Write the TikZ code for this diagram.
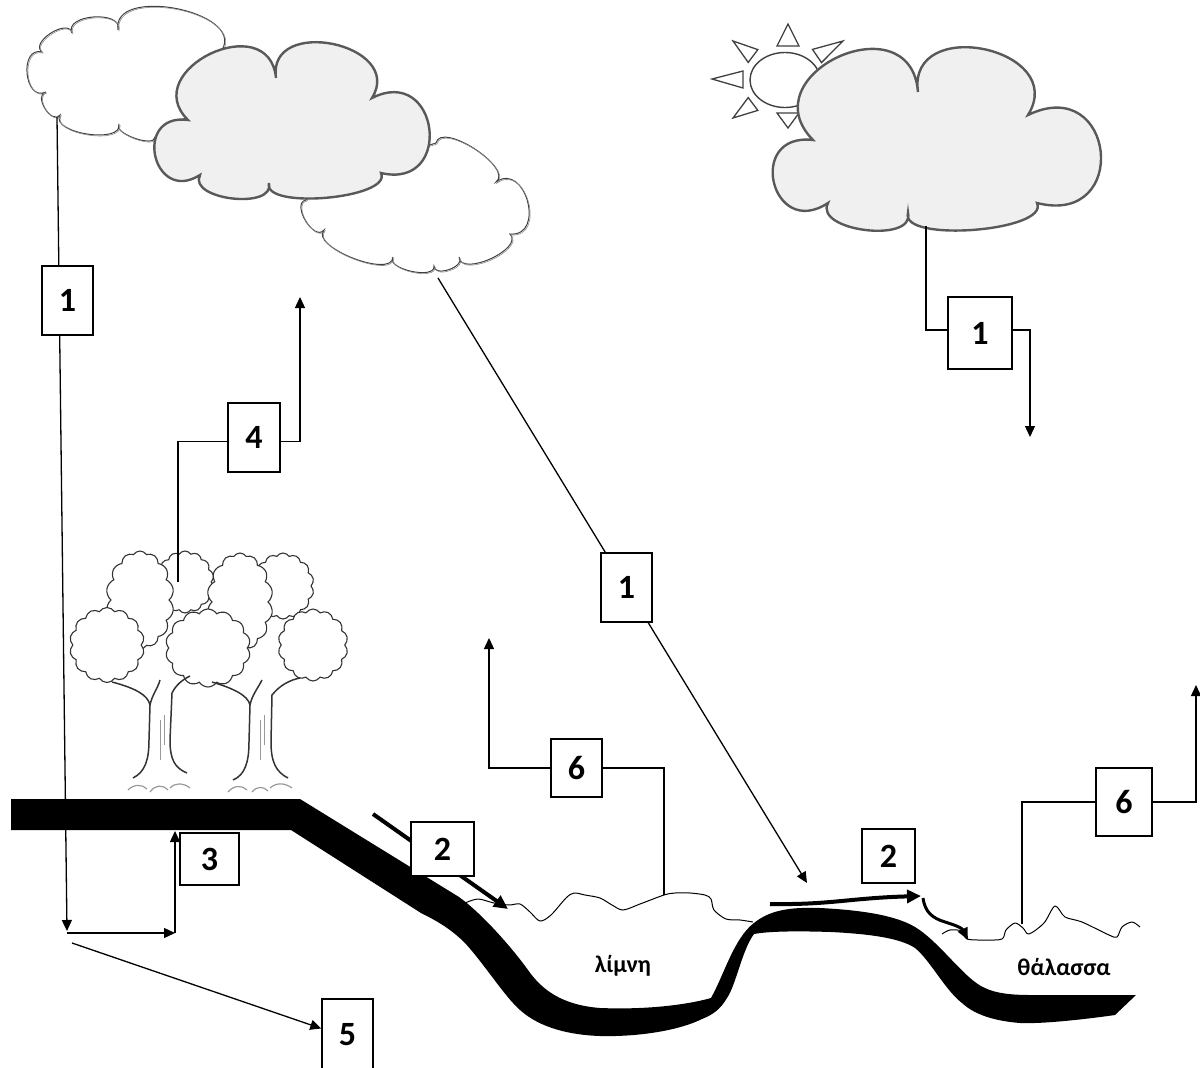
\documentclass[tikz,border=0pt]{standalone}
\usepackage{fontspec}
\setmainfont{Carlito}
\usetikzlibrary{arrows.meta,calc,shapes.symbols}
\pgfdeclarelayer{bg}
\pgfsetlayers{bg,main}
\newcommand\puff[3]{.. controls ($(#1)!#3!110:(#2)$) and ($(#2)!#3!-110:(#1)$) .. (#2)}
\begin{document}
\begin{tikzpicture}[x=1pt,y=-1pt,
  box/.style={draw=black, fill=white, line width=1.4pt, inner sep=0pt, font=\fontsize{34}{34}\selectfont\bfseries},
  conn/.style={line width=1.3pt, draw=black},
  tipa/.style={-{Triangle[length=11pt,width=10pt]}},
  flow/.style={line width=4pt, -{Triangle[length=14pt,width=13pt]}},
  sketch/.style={draw=black!75, line width=1pt, fill=white},
  sketchb/.style={draw=black!45, line width=0.6pt},
  graycloud/.style={draw=black!65, line width=2.4pt, fill=black!6},
  crown/.style={cloud, cloud puffs=14, cloud puff arc=115, cloud ignores aspect, draw=black!80, line width=1.1pt, fill=white, inner sep=0pt},
  trunk/.style={draw=black!80, line width=1.5pt},
  grass/.style={draw=black!40, line width=1.2pt},
  label/.style={font=\fontsize{24}{24}\selectfont\bfseries}
]
\useasboundingbox (0,0) rectangle (1200,1068);
\clip (0,0) rectangle (1200,1068);

% ---------- boxes ----------
\node[box, minimum width=51pt, minimum height=69pt] (b1l) at (67.5,300.5) {1};
\node[box, minimum width=52pt, minimum height=69pt] (b4) at (254,437.5) {4};
\node[box, minimum width=51pt, minimum height=69pt] (b1m) at (626.5,587.5) {1};
\node[box, minimum width=64pt, minimum height=72pt] (b1r) at (980,333) {1};
\node[box, minimum width=51pt, minimum height=58pt] (b6m) at (576.5,768) {6};
\node[box, minimum width=56pt, minimum height=68pt] (b6r) at (1124,802) {6};
\node[box, minimum width=63pt, minimum height=54pt] (b2l) at (442.5,849) {2};
\node[box, minimum width=53pt, minimum height=54pt] (b2r) at (888.5,856) {2};
\node[box, minimum width=59pt, minimum height=52pt] (b3) at (209.5,859) {3};
\node[box, minimum width=51pt, minimum height=71pt] (b5) at (347.5,1034.5) {5};

\node[label] (lake) at (623,966) {λίμνη};
\node[label] (sea) at (1064,967) {θάλασσα};

\begin{pgfonlayer}{bg}
% ---------- cloud A (sketchy) ----------
\foreach \s/\st in {0/sketch,1/sketchb}{
\draw[\st, shift={(\s,\s)}] (46,92) \puff{46,92}{42,52}{0.6} \puff{42,52}{72,33}{0.45}
  \puff{72,33}{118,30}{0.45} \puff{118,30}{222,50}{0.43} -- (190,115) -- (155,137)
  \puff{155,137}{119,124}{0.3} \puff{119,124}{60,115}{0.35} \puff{60,115}{46,92}{0.5} -- cycle;
}
% ---------- cloud C (sketchy) ----------
\foreach \s/\st in {0/sketch,1/sketchb}{
\draw[\st, shift={(\s,\s)}] (320,180) -- (436,143) \puff{436,143}{496,182}{0.32} \puff{496,182}{510,234}{0.67}
  \puff{510,234}{459,257}{0.37} \puff{459,257}{434,266}{0.45} \puff{434,266}{393,257}{0.34}
  \puff{393,257}{324,230}{0.3} \puff{324,230}{306,200}{0.45} -- cycle;
}
% ---------- cloud B (gray) ----------
\draw[graycloud] (188,120) \puff{188,120}{276,78}{0.73} \puff{276,78}{372,98}{0.65}
  \puff{372,98}{381,173}{1.0} \puff{381,173}{269,183}{0.25} \puff{269,183}{200,175}{0.4}
  \puff{200,175}{188,120}{1.0} -- cycle;

% ---------- sun ----------
\draw[draw=black!75, line width=1.4pt, fill=white] (785,80) ellipse [x radius=35, y radius=27.5];
\foreach \ax/\ay/\bx/\by/\cx/\cy in {788/24/777/46/799/46,
  843/41/812.5/49.4/821.5/62.6,
  733/41/757.8/49.6/748.2/62.4,
  712/79/743/71/743/88,
  733/118/757.8/110.4/748.2/97.6,
  788/128/777/113/799/113}{
  \draw[draw=black!75, line width=1.3pt, fill=white, line join=miter] (\ax,\ay) -- (\bx,\by) -- (\cx,\cy) -- cycle;
}
% ---------- cloud D (gray) ----------
\draw[graycloud] (813,140) \puff{813,140}{918,92}{0.8} \puff{918,92}{1028,115}{0.7}
  \puff{1028,115}{1037,203}{1.1} \puff{1037,203}{908,213}{0.24} \puff{908,213}{828,203}{0.39}
  \puff{828,203}{813,140}{1.05} -- cycle;

% ---------- trees ----------
\node[crown, minimum width=58pt, minimum height=62pt] (L3) at (185,582) {};
\node[crown, minimum width=62pt, minimum height=66pt] (M2) at (283,586) {};
\node[crown, minimum width=68pt, minimum height=98pt] (L2) at (140,600) {};
\node[crown, minimum width=66pt, minimum height=98pt] (M1) at (240,602) {};
\node[crown, minimum width=75pt, minimum height=75pt] (L1) at (107,645) {};
\node[crown, minimum width=85pt, minimum height=78pt] (L4) at (208,648) {};
\node[crown, minimum width=70pt, minimum height=72pt] (M3) at (313,645) {};
% trunks
\fill[white] (149,690) -- (150,770) -- (171,770) -- (172,688) -- cycle;
\fill[white] (249,690) -- (250,772) -- (271,772) -- (272,688) -- cycle;
\draw[trunk] (133,778) .. controls (145,772) and (149,760) .. (149,740) -- (150,705)
  .. controls (148,695) and (135,688) .. (112,682);
\draw[trunk] (187,773) .. controls (175,768) and (170,760) .. (170,740) -- (172,693)
  .. controls (176,685) and (182,680) .. (190,676);
\draw[trunk] (150,705) .. controls (152,695) and (158,688) .. (160,680);
\draw[trunk] (233,780) .. controls (245,775) and (249,762) .. (249,742) -- (250,705)
  .. controls (248,695) and (232,688) .. (212,682);
\draw[trunk] (288,778) .. controls (276,772) and (271,762) .. (271,742) -- (272,695)
  .. controls (280,685) and (290,680) .. (300,678);
\draw[trunk] (250,705) .. controls (252,695) and (258,688) .. (262,680);
\draw[draw=black!40, line width=0.8pt] (160,720) -- (160,760) (164,715) -- (164,745)
  (260,720) -- (260,760) (264,715) -- (264,745);
% grass
\draw[grass] (128,790) .. controls (134,784) and (142,784) .. (147,789)
  (150,792) .. controls (155,785) and (162,784) .. (168,790)
  (170,788) .. controls (176,782) and (184,783) .. (190,788)
  (228,792) .. controls (234,785) and (242,785) .. (247,790)
  (252,792) .. controls (257,786) and (263,786) .. (268,791)
  (270,788) .. controls (277,782) and (285,783) .. (292,788);

% ---------- ground ----------
\fill[black] (11,799) -- (300,799) -- (459,897)
 .. controls (480,912) and (510,945) .. (528,970)
 .. controls (542,990) and (562,1005) .. (600,1008)
 .. controls (650,1010) and (690,1004) .. (711,998)
 .. controls (724,975) and (734,938) .. (754,923)
 .. controls (770,910) and (790,907) .. (820,908)
 .. controls (860,910) and (895,915) .. (915,927)
 .. controls (940,942) and (965,980) .. (985,988)
 .. controls (995,993) and (1010,995) .. (1030,995)
 -- (1136,995) -- (1115,1015)
 .. controls (1080,1020) and (1040,1024) .. (1020,1023)
 .. controls (995,1021) and (975,1015) .. (962,1003)
 .. controls (945,990) and (930,960) .. (915,948)
 .. controls (900,938) and (870,934) .. (831,932)
 .. controls (800,931) and (770,931) .. (754,934)
 .. controls (742,950) and (736,985) .. (727,998)
 .. controls (720,1010) and (712,1015) .. (702,1019)
 .. controls (680,1030) and (640,1037) .. (600,1036)
 .. controls (570,1035) and (540,1028) .. (520,1010)
 .. controls (505,997) and (485,965) .. (465,943)
 .. controls (450,928) and (435,920) .. (421,913)
 -- (291,830) -- (11,830) -- cycle;

% ---------- water surfaces ----------
\draw[line width=1pt, line join=round] plot[smooth, tension=0.5] coordinates {(465,903) (478,899) (494,903) (509,905) (520,904) (530,912) (540,921) (551,915) (566,898) (574,893) (585,895) (600,898) (612,905) (623,910) (640,904) (664,895) (675,893) (690,893) (705,895) (711,899) (714,910) (726,919) (740,920) (753,922)};
\draw[line width=1pt, line join=round] plot[smooth, tension=0.5] coordinates {(942,934) (950,930) (962,931) (967,939) (985,940) (1002,939) (1006,930) (1015,923) (1023,928) (1029,934) (1044,923) (1055,906) (1065,917) (1082,922) (1109,935) (1117,937) (1122,927) (1132,922) (1140,927)};

% ---------- connectors ----------
\coordinate (c1) at (57,117);
\coordinate (d1) at (67,931);
\coordinate (g1) at (67,933);
\coordinate (g2) at (175,933);
\coordinate (g3) at (175,831);
\coordinate (f1) at (72,943);
\draw[conn, tipa] (c1) -- (d1);
\draw[conn, tipa] (g1) -- (g2);
\draw[conn, tipa] (g2) -- (g3);
\draw[conn, tipa] (f1) -- ([yshift=6pt]b5.west);

\coordinate (t4) at (178,582);
\coordinate (u4) at (300,297);
\draw[conn] (t4) |- ([yshift=-4pt]b4.west);
\draw[conn, tipa] ([yshift=-4pt]b4.east) -| (u4);

\coordinate (c3) at (438,278);
\coordinate (d3) at (807,883);
\draw[conn, tipa] (c3) -- (d3);

\coordinate (c4) at (926,226);
\coordinate (d4) at (1030,437);
\draw[conn] (c4) |- ([yshift=3pt]b1r.west);
\draw[conn, tipa] ([yshift=3pt]b1r.east) -| (d4);

\coordinate (w1) at (664,895);
\coordinate (v1) at (489,638);
\draw[conn] (w1) |- (b6m.east);
\draw[conn, tipa] (b6m.west) -| (v1);

\coordinate (w2) at (1022,924);
\coordinate (v2) at (1196,685);
\draw[conn] (w2) |- (b6r.west);
\draw[conn, tipa] (b6r.east) -| (v2);

% runoff arrows
\coordinate (s1) at (373,814);
\coordinate (s2) at (508,909);
\draw[flow] (s1) -- (s2);
\coordinate (s3) at (770,904);
\coordinate (s4) at (921,896);
\draw[flow] (s3) .. controls (830,905) and (850,898) .. (s4);
\coordinate (s5) at (923,898);
\coordinate (s6) at (968,940);
\draw[line width=3pt, -{Triangle[length=12pt,width=10pt]}] (s5) .. controls (925,912) and (932,918) .. (945,922) .. controls (955,925) and (962,928) .. (s6);
\end{pgfonlayer}
\end{tikzpicture}
\end{document}
